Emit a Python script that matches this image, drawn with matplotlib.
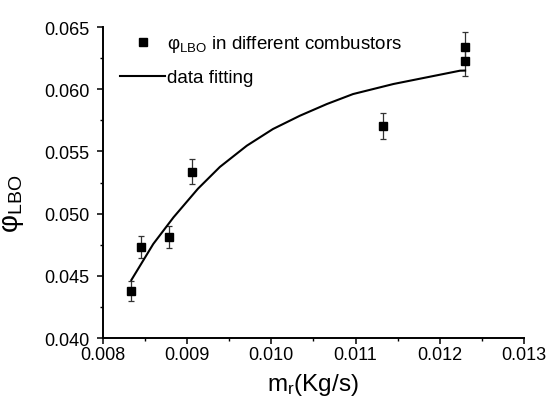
import matplotlib
matplotlib.use('Agg')
import matplotlib.pyplot as plt
from matplotlib.ticker import MultipleLocator, FormatStrFormatter

plt.rcParams['font.family'] = ['Liberation Sans', 'DejaVu Sans']
plt.rcParams['mathtext.fontset'] = 'custom'
plt.rcParams['mathtext.rm'] = 'Liberation Sans'
plt.rcParams['mathtext.it'] = 'Liberation Sans:italic'

# measured lean blow-out equivalence ratio, one per combustor
mass_flow = [0.00833, 0.00845, 0.00879, 0.00906, 0.01133, 0.01230, 0.01230]
phi_lbo = [0.04378, 0.04734, 0.04814, 0.05337, 0.05705, 0.06343, 0.06225]
phi_err = [0.00080, 0.00090, 0.00087, 0.00100, 0.00103, 0.00117, 0.00117]

# fitted curve
fit_x = [0.00834, 0.00860, 0.00884, 0.00913, 0.00939, 0.00971, 0.01002,
         0.01034, 0.01066, 0.01097, 0.01129, 0.01145, 0.01224, 0.01230]
fit_y = [0.04466, 0.04756, 0.04970, 0.05200, 0.05375, 0.05546, 0.05680,
         0.05787, 0.05881, 0.05961, 0.06015, 0.06042, 0.06149, 0.06150]

fig = plt.figure(figsize=(5.48, 4.02), dpi=100)
ax = fig.add_axes([0.1874, 0.1567, 0.769, 0.7736])

ax.errorbar(mass_flow, phi_lbo, yerr=phi_err, fmt='none',
            ecolor='#333333', elinewidth=0.9, capsize=2.2, capthick=0.9)
ax.plot(mass_flow, phi_lbo, 's', color='black', markersize=5.5,
        label=r'φ$_{\mathrm{LBO}}$ in different combustors')
ax.plot(fit_x, fit_y, '-', color='black', lw=1.5, label='data fitting')

ax.set_xlim(0.008, 0.013)
ax.set_ylim(0.040, 0.065)
ax.xaxis.set_major_locator(MultipleLocator(0.001))
ax.xaxis.set_minor_locator(MultipleLocator(0.0005))
ax.yaxis.set_major_locator(MultipleLocator(0.005))
ax.yaxis.set_minor_locator(MultipleLocator(0.0025))
ax.xaxis.set_major_formatter(FormatStrFormatter('%.3f'))
ax.yaxis.set_major_formatter(FormatStrFormatter('%.3f'))

for s in ['top', 'right']:
    ax.spines[s].set_visible(False)
for s in ['left', 'bottom']:
    ax.spines[s].set_linewidth(1.4)

ax.tick_params(which='major', direction='out', length=4.5, width=1.1,
               labelsize=13, color='black')
ax.tick_params(which='minor', direction='out', length=2.5, width=1.0)
ax.tick_params(axis='x', which='major', pad=1)
ax.tick_params(axis='y', which='major', pad=5)

ax.set_xlabel(r'm$_{\mathrm{r}}$(Kg/s)', fontsize=17.5, labelpad=6)
ax.set_ylabel(r'φ$_{\mathrm{LBO}}$', fontsize=20)
ax.yaxis.set_label_coords(-0.182, 0.434)

ax.legend(loc='upper left', bbox_to_anchor=(0.04, 0.98), frameon=False,
          fontsize=13.5, handlelength=2.45, handletextpad=0.1,
          borderpad=0, borderaxespad=0, labelspacing=0.8, numpoints=1)

fig.savefig('out.png', dpi=100)
